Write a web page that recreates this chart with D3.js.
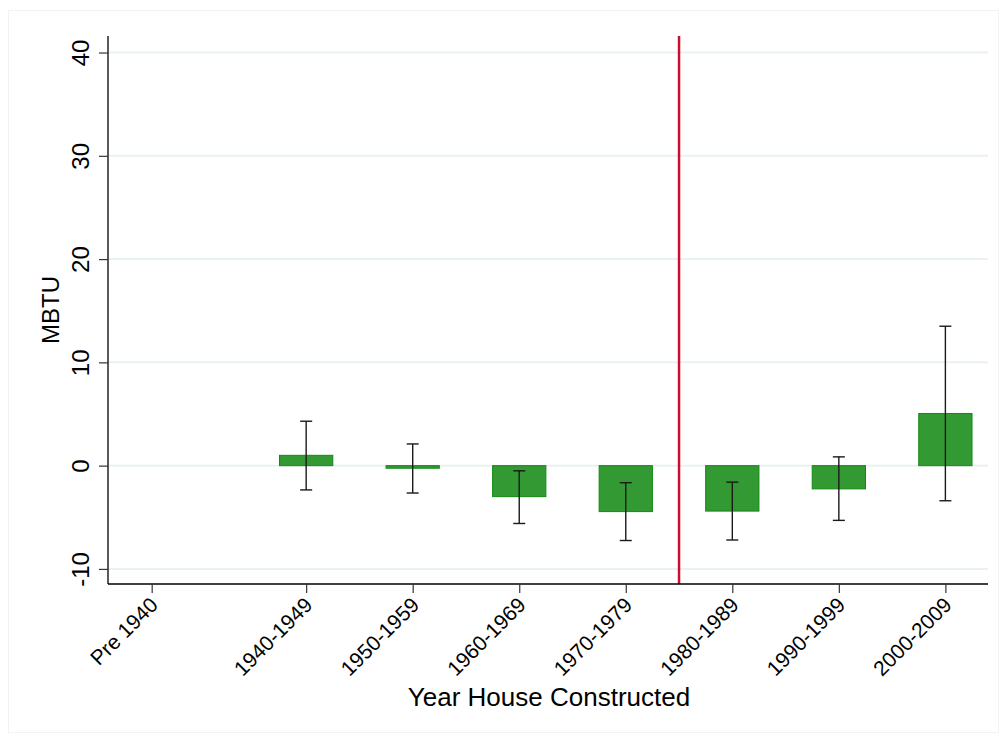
<!DOCTYPE html>
<html>
<head>
<meta charset="utf-8">
<script src="https://cdn.jsdelivr.net/npm/d3@7"></script>
<style>
  html, body { margin: 0; padding: 0; background: #fff; }
  svg { display: block; font-family: "Liberation Sans", Arial, Helvetica, sans-serif; }
</style>
</head>
<body>
<svg id="chart" width="1003" height="736"></svg>
<script>
// Construction-period categories and their positions on the year axis
const categories = ["Pre 1940", "1940-1949", "1950-1959", "1960-1969", "1970-1979", "1980-1989", "1990-1999", "2000-2009"];
const yearPos = [1930.5, 1945, 1955, 1965, 1975, 1985, 1995, 2005];
// Estimated difference in MBTU, with confidence bounds (Pre 1940 is the base group)
const estimate = [null, 1.0, -0.25, -3.0, -4.45, -4.4, -2.25, 5.05];
const ciLow = [null, -2.35, -2.65, -5.6, -7.25, -7.2, -5.3, -3.4];
const ciHigh = [null, 4.3, 2.1, -0.5, -1.65, -1.6, 0.85, 13.5];
const yTicks = [-10, 0, 10, 20, 30, 40];
const cutoffYear = 1980;
const barWidthYears = 5;

const svg = d3.select("#chart");
const plot = { left: 108, top: 36, right: 988, bottom: 584 };

const x = d3.scaleLinear().domain([1926.4, 2009]).range([plot.left, plot.right]);
const y = d3.scaleLinear().domain([-11.46, 41.6]).range([plot.bottom, plot.top]);

// faint outer frame
svg.append("rect")
  .attr("x", 8.5).attr("y", 10.5).attr("width", 990).attr("height", 722)
  .attr("fill", "none").attr("stroke", "#f1f3f3").attr("stroke-width", 1);

// horizontal gridlines
svg.append("g").selectAll("line").data(yTicks).join("line")
  .attr("x1", plot.left).attr("x2", plot.right)
  .attr("y1", d => y(d)).attr("y2", d => y(d))
  .attr("stroke", "#eaf1f2").attr("stroke-width", 2);

const rows = categories.map((c, i) => ({
  cat: c, pos: yearPos[i], est: estimate[i], lo: ciLow[i], hi: ciHigh[i]
})).filter(d => d.est !== null);

// bars
svg.append("g").selectAll("rect").data(rows).join("rect")
  .attr("x", d => x(d.pos - barWidthYears / 2))
  .attr("width", d => x(d.pos + barWidthYears / 2) - x(d.pos - barWidthYears / 2))
  .attr("y", d => y(Math.max(0, d.est)))
  .attr("height", d => Math.abs(y(d.est) - y(0)))
  .attr("fill", "#339933")
  .attr("stroke", "#118a11").attr("stroke-width", 1);

// confidence intervals
const ci = svg.append("g").attr("stroke", "#1a1a1a").attr("stroke-width", 1.4);
ci.selectAll("line.stem").data(rows).join("line").attr("class", "stem")
  .attr("x1", d => x(d.pos)).attr("x2", d => x(d.pos))
  .attr("y1", d => y(d.lo)).attr("y2", d => y(d.hi));
ci.selectAll("line.capHi").data(rows).join("line").attr("class", "capHi")
  .attr("x1", d => x(d.pos) - 6).attr("x2", d => x(d.pos) + 6)
  .attr("y1", d => y(d.hi)).attr("y2", d => y(d.hi));
ci.selectAll("line.capLo").data(rows).join("line").attr("class", "capLo")
  .attr("x1", d => x(d.pos) - 6).attr("x2", d => x(d.pos) + 6)
  .attr("y1", d => y(d.lo)).attr("y2", d => y(d.lo));

// cutoff line
svg.append("line")
  .attr("x1", x(cutoffYear)).attr("x2", x(cutoffYear))
  .attr("y1", plot.top).attr("y2", plot.bottom)
  .attr("stroke", "#c8102e").attr("stroke-width", 2.5);

// y axis (plain hyphen for negatives)
const yAxis = svg.append("g")
  .attr("transform", `translate(${plot.left},0)`)
  .call(d3.axisLeft(y).tickValues(yTicks).tickSize(9).tickSizeOuter(0).tickPadding(0)
    .tickFormat(d => String(d)));
yAxis.select(".domain").attr("stroke", "#000").attr("stroke-width", 1.3)
  .attr("d", `M0,${plot.top}V${plot.bottom}`);
yAxis.selectAll(".tick line").attr("stroke", "#333").attr("stroke-width", 1.2);
yAxis.selectAll(".tick text")
  .attr("font-size", 24).attr("fill", "#000")
  .attr("text-anchor", "middle").attr("dy", 0).attr("x", 0)
  .attr("transform", "translate(-19,0) rotate(-90)");

// x axis
const xAxis = svg.append("g")
  .attr("transform", `translate(0,${plot.bottom})`)
  .call(d3.axisBottom(x).tickValues(yearPos).tickSize(9).tickSizeOuter(0)
    .tickFormat((d, i) => categories[i]));
xAxis.select(".domain").attr("stroke", "#000").attr("stroke-width", 1.3)
  .attr("d", `M${plot.left},0H${plot.right}`);
xAxis.selectAll(".tick line").attr("stroke", "#333").attr("stroke-width", 1.2);
xAxis.selectAll(".tick text")
  .attr("font-size", 21).attr("fill", "#000")
  .attr("text-anchor", "end").attr("y", 0).attr("dy", "0.35em")
  .attr("transform", "translate(2,17) rotate(-45)");

// axis titles
svg.append("text")
  .attr("x", (plot.left + plot.right) / 2 + 1).attr("y", 706)
  .attr("text-anchor", "middle").attr("font-size", 26).attr("fill", "#000")
  .text("Year House Constructed");
svg.append("text")
  .attr("transform", `translate(59,${(plot.top + plot.bottom) / 2}) rotate(-90)`)
  .attr("text-anchor", "middle").attr("font-size", 24).attr("fill", "#000")
  .text("MBTU");
</script>
</body>
</html>
